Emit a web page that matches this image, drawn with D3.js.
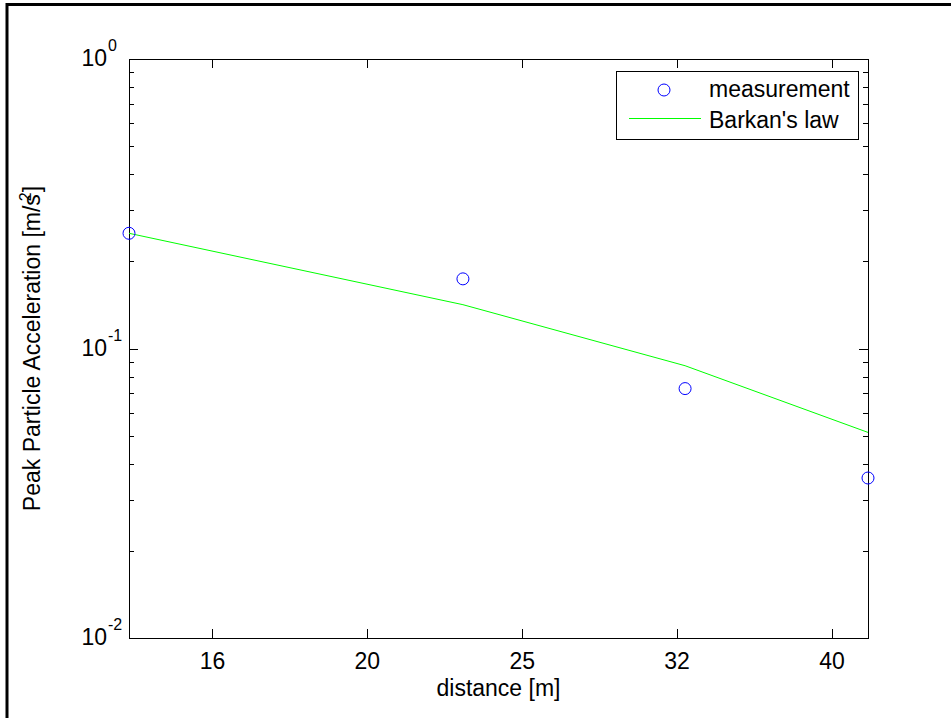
<!DOCTYPE html>
<html>
<head>
<meta charset="utf-8">
<script src="https://cdn.jsdelivr.net/npm/d3@7"></script>
<style>
  html, body { margin: 0; padding: 0; background: #fff; }
  svg { display: block; }
  text { font-family: "Liberation Sans", Arial, sans-serif; fill: #000; }
</style>
</head>
<body>
<svg id="chart" width="951" height="718"></svg>
<script>
// ---- data ----
const distance = [14, 23, 32, 42];
const measurement = [0.25, 0.174, 0.0727, 0.0357];
const barkanLaw = [0.25, 0.1417, 0.0872, 0.0513];
const xTickValues = [15.85, 19.95, 25.12, 31.62, 39.81];
const xTickLabels = ["16", "20", "25", "32", "40"];
const yTickValues = [1, 0.1, 0.01];
const yTickExponents = ["0", "-1", "-2"];
const yMinorTicks = [0.02,0.03,0.04,0.05,0.06,0.07,0.08,0.09,0.2,0.3,0.4,0.5,0.6,0.7,0.8,0.9];
const seriesNames = ["measurement", "Barkan's law"];

// ---- layout ----
const W = 951, H = 718;
const L = 129, R = 868, T = 59, B = 638;
const fs = 23;
const fsSup = 16;

const svg = d3.select("#chart");
svg.append("rect").attr("width", W).attr("height", H).attr("fill", "#fff");

// outer figure border (top and left visible)
svg.append("path")
  .attr("d", `M7,${H} L7,4.5 L${W},4.5`)
  .attr("fill", "none").attr("stroke", "#000").attr("stroke-width", 3);

const x = d3.scaleLog().domain([14, 42]).range([L, R]);
const y = d3.scaleLog().domain([0.01, 1]).range([B, T]);

const g = svg.append("g");

// axes box
g.append("rect")
  .attr("x", L + 0.5).attr("y", T + 0.5)
  .attr("width", R - L).attr("height", B - T)
  .attr("fill", "none").attr("stroke", "#000").attr("stroke-width", 1);

// x ticks (inward, bottom and top)
const xt = g.append("g").attr("stroke", "#000").attr("stroke-width", 1);
xTickValues.forEach(v => {
  const px = Math.round(x(v)) + 0.5;
  xt.append("line").attr("x1", px).attr("x2", px).attr("y1", B).attr("y2", B - 9);
  xt.append("line").attr("x1", px).attr("x2", px).attr("y1", T).attr("y2", T + 9);
});
xTickValues.forEach((v, i) => {
  g.append("text")
    .attr("x", x(v)).attr("y", B + 31)
    .attr("text-anchor", "middle").attr("font-size", fs)
    .text(xTickLabels[i]);
});

// y ticks major + minor (inward, left and right)
const yt = g.append("g").attr("stroke", "#000").attr("stroke-width", 1);
yTickValues.forEach(v => {
  const py = Math.round(y(v)) + 0.5;
  yt.append("line").attr("x1", L).attr("x2", L + 9).attr("y1", py).attr("y2", py);
  yt.append("line").attr("x1", R).attr("x2", R - 9).attr("y1", py).attr("y2", py);
});
yMinorTicks.forEach(v => {
  const py = Math.round(y(v)) + 0.5;
  yt.append("line").attr("x1", L).attr("x2", L + 5).attr("y1", py).attr("y2", py);
  yt.append("line").attr("x1", R).attr("x2", R - 5).attr("y1", py).attr("y2", py);
});
yTickValues.forEach((v, i) => {
  g.append("text")
    .attr("x", 107).attr("y", y(v) + 7)
    .attr("text-anchor", "end").attr("font-size", fs)
    .text("10");
  g.append("text")
    .attr("x", 108).attr("y", y(v) - 8)
    .attr("text-anchor", "start").attr("font-size", fsSup)
    .text(yTickExponents[i]);
});

// axis labels
g.append("text")
  .attr("x", (L + R) / 2).attr("y", 696)
  .attr("text-anchor", "middle").attr("font-size", fs)
  .text("distance [m]");

const yl = g.append("text")
  .attr("transform", `translate(40,${(T + B) / 2}) rotate(-90)`)
  .attr("text-anchor", "middle").attr("font-size", fs);
yl.append("tspan").text("Peak Particle Acceleration [m/s");
yl.append("tspan").attr("font-size", fsSup).attr("dy", -9).attr("dx", -7).text("2");
yl.append("tspan").attr("dy", 9).text("]");

// Barkan's law line
const line = d3.line().x((d, i) => x(distance[i])).y(d => y(d));
g.append("path")
  .datum(barkanLaw)
  .attr("d", line)
  .attr("fill", "none").attr("stroke", "#00ff00").attr("stroke-width", 1);

// measurement circles
g.selectAll("circle.meas")
  .data(measurement)
  .enter().append("circle")
  .attr("class", "meas")
  .attr("cx", (d, i) => x(distance[i]))
  .attr("cy", d => y(d))
  .attr("r", 6)
  .attr("fill", "none").attr("stroke", "#0000ff").attr("stroke-width", 1);

// legend
const lg = g.append("g");
lg.append("rect")
  .attr("x", 616.5).attr("y", 71.5).attr("width", 242).attr("height", 68)
  .attr("fill", "#fff").attr("stroke", "#000").attr("stroke-width", 1);
lg.append("circle")
  .attr("cx", 664).attr("cy", 90).attr("r", 6)
  .attr("fill", "none").attr("stroke", "#0000ff").attr("stroke-width", 1);
lg.append("line")
  .attr("x1", 629).attr("x2", 701).attr("y1", 118.5).attr("y2", 118.5)
  .attr("stroke", "#00ff00").attr("stroke-width", 1);
lg.append("text").attr("x", 709).attr("y", 97).attr("font-size", fs).text(seriesNames[0]);
lg.append("text").attr("x", 709).attr("y", 128).attr("font-size", fs).text(seriesNames[1]);
</script>
</body>
</html>
